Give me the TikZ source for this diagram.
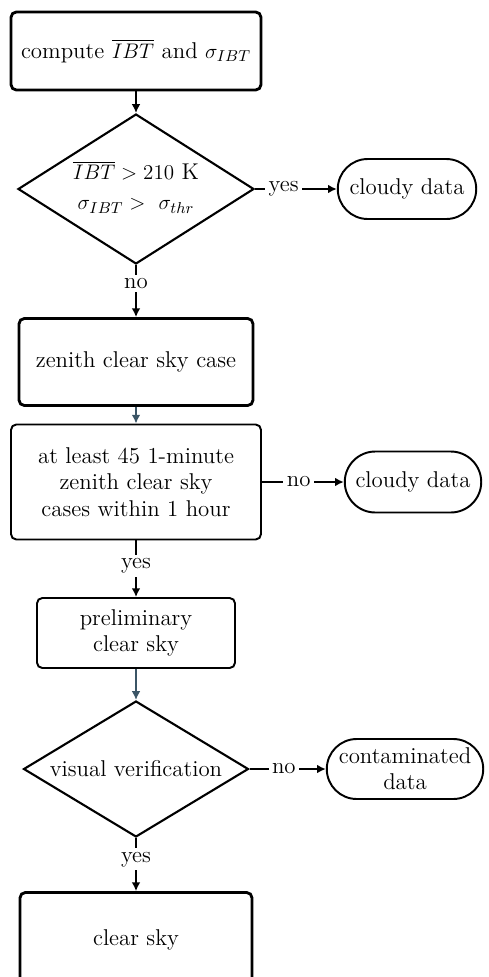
\documentclass[tikz,border=0pt]{standalone}
\usepackage{amsmath}
\usepackage{amssymb}
\usetikzlibrary{shapes.geometric,shapes.misc,arrows.meta}
\definecolor{slate}{HTML}{3B5566}

\begin{document}
\begin{tikzpicture}[x=0.02cm,y=-0.02cm,font=\fontsize{13}{15}\selectfont,
  boldbox/.style={draw,line width=1.6pt,rounded corners=3pt,align=center},
  thinbox/.style={draw,line width=1.1pt,rounded corners=3pt,align=center},
  decision/.style={draw,diamond,line width=1.2pt,inner sep=0pt},
  terminal/.style={draw,rounded rectangle,line width=1.1pt,align=center,inner sep=1pt},
  flow/.style={-{Latex[length=5pt,width=5pt]},line width=1pt},
  lbl/.style={fill=white,inner sep=2pt}]
\useasboundingbox (0,0) rectangle (488,977);
\clip (0,0) rectangle (488,977);

\node[boldbox,minimum width=5cm,minimum height=1.56cm] (compute) at (136,51) {compute $\overline{IBT}$ and $\sigma_{IBT}$};
\node[decision,minimum width=4.72cm,minimum height=3cm] (test) at (136,189)
  {\makebox[0pt]{\begin{tabular}{@{}c@{}}$\overline{IBT} > 210$ K\\[2pt] $\sigma_{IBT} >\ \sigma_{thr}$\end{tabular}}};
\node[terminal,minimum width=2.84cm,minimum height=1.2cm] (cloudyA) at (407,189) {cloudy data};
\node[boldbox,minimum width=4.68cm,minimum height=1.74cm] (zenith) at (136,362) {zenith clear sky case};
\node[thinbox,minimum width=5cm,minimum height=2.3cm] (count) at (136,482) {at least 45 1-minute\\zenith clear sky\\cases within 1 hour};
\node[terminal,minimum width=2.8cm,minimum height=1.22cm] (cloudyB) at (413,482) {cloudy data};
\node[thinbox,minimum width=3.96cm,minimum height=1.4cm] (prelim) at (136,633) {preliminary\\clear sky};
\node[decision,minimum width=4.5cm,minimum height=2.72cm] (visual) at (136,769) {\makebox[0pt]{visual verification}};
\node[terminal,minimum width=3.2cm,minimum height=1.2cm] (contam) at (405,769) {contaminated\\data};
\node[boldbox,minimum width=4.64cm,minimum height=1.9cm] (clear) at (136,940) {clear sky};

% connectors
\draw[flow] (compute) -- (test);
\draw[flow] (test.east) -- node[lbl,pos=0.35] {yes} (cloudyA.west);
\draw[flow] (test.south) -- node[lbl,pos=0.35] {no} (zenith.north);
\draw[flow,slate] (zenith) -- (count);
\draw[flow] (count.east) -- node[lbl,pos=0.45] {no} (cloudyB.west);
\draw[flow] (count.south) -- node[lbl,pos=0.45] {yes} (prelim.north);
\draw[flow,slate] (prelim) -- (visual);
\draw[flow] (visual.east) -- node[lbl,pos=0.45] {no} (contam.west);
\draw[flow] (visual.south) -- node[lbl,pos=0.4] {yes} (clear.north);
\end{tikzpicture}
\end{document}
